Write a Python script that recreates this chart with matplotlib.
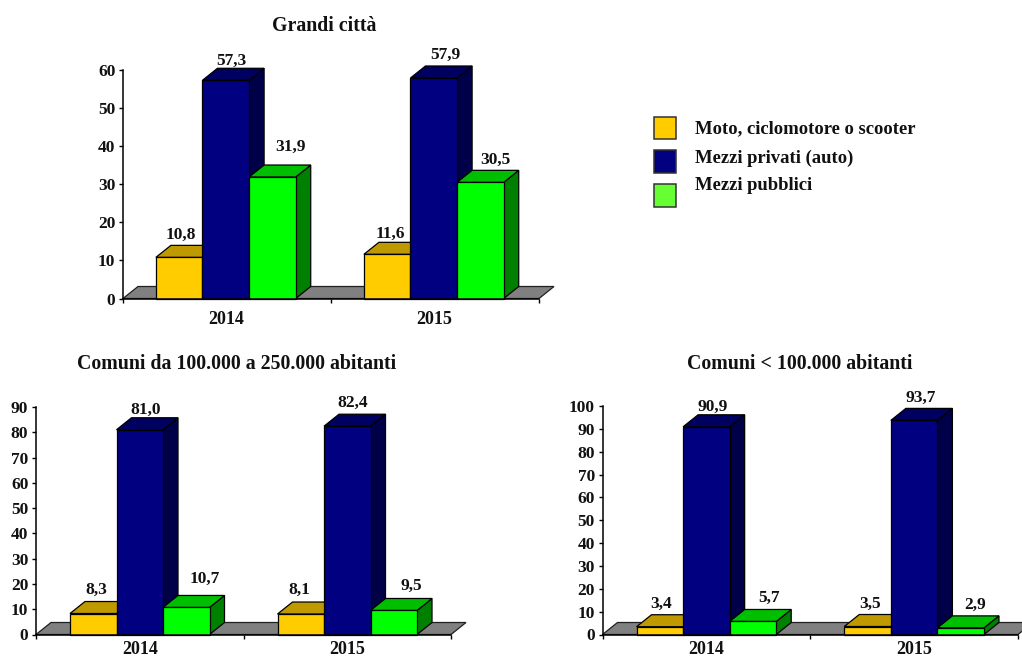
import matplotlib
matplotlib.use("Agg")
import matplotlib.pyplot as plt
from matplotlib.patches import Polygon, Rectangle

plt.rcParams['font.family'] = ['Liberation Serif', 'DejaVu Serif']
plt.rcParams['font.weight'] = 'bold'

years = ['2014', '2015']
series_names = ['Moto, ciclomotore o scooter', 'Mezzi privati (auto)', 'Mezzi pubblici']
titles = ['Grandi città', 'Comuni da 100.000 a 250.000 abitanti', 'Comuni < 100.000 abitanti']

grandi_moto = [10.8, 11.6]
grandi_auto = [57.3, 57.9]
grandi_pubblici = [31.9, 30.5]
medi_moto = [8.3, 8.1]
medi_auto = [81.0, 82.4]
medi_pubblici = [10.7, 9.5]
piccoli_moto = [3.4, 3.5]
piccoli_auto = [90.9, 93.7]
piccoli_pubblici = [5.7, 2.9]

y_maxima = [60, 90, 100]
y_steps = [10, 10, 10]

W, H = 1022, 659
front = ['#FFCC00', '#000080', '#00FF00']
top = ['#BF9900', '#000060', '#00BF00']
side = ['#806600', '#000048', '#008000']
legend_colors = ['#FFCC00', '#000080', '#66FF33']
DX, DY = 15, 12          # pixel depth of the 3D effect
BAR = 46.5 / 207.5       # bar width in category units

# Layout: axes box in pixels (left, right, y of zero, y of maximum)
boxes = [(123, 539, 298.5, 70), (36, 451, 634.5, 407), (602.5, 1018, 634.5, 406)]
group_shift_px = [-1.2, 0, 0]
# label offsets from the front-top centre of each bar, in pixels
offsets = [
    [[(2, 22), (6, 19), (18, 30)], [(3, 20), (12, 23), (15, 22)]],
    [[(3, 24), (6, 20), (18, 29)], [(-1, 24), (5, 23), (18, 25)]],
    [[(1, 23), (6, 20), (16, 24)], [(2, 23), (7, 23), (14, 23)]],
]
title_px = [(324, 26), (237, 364), (800, 364)]
tick_label_base = [323.5, 654.5, 654.5]

fig = plt.figure(figsize=(W / 100, H / 100), dpi=100, facecolor='white')
datasets = [
    [grandi_moto, grandi_auto, grandi_pubblici],
    [medi_moto, medi_auto, medi_pubblici],
    [piccoli_moto, piccoli_auto, piccoli_pubblici],
]

for k, (box, data, ymax, step) in enumerate(zip(boxes, datasets, y_maxima, y_steps)):
    l, r, y0, yt = box
    ax = fig.add_axes([l / W, 1 - y0 / H, (r - l) / W, (y0 - yt) / H])
    ax.set_xlim(0, 2)
    ax.set_ylim(0, ymax)
    ax.patch.set_alpha(0)
    ax.set_axisbelow(False)
    sx = (r - l) / 2          # pixels per category
    sy = (y0 - yt) / ymax     # pixels per unit
    dx, dy = DX / sx, DY / sy
    shift = group_shift_px[k] / sx

    ax.add_patch(Polygon([(0, 0), (dx, dy), (2 + dx, dy), (2, 0)], closed=True, clip_on=False,
                         facecolor='#808080', edgecolor='#202020', lw=0.9, zorder=1))

    z = 2
    for g in range(2):
        for s in range(3):
            v = data[s][g]
            xc = g + 0.5 + shift + (s - 1) * BAR
            x0, x1 = xc - BAR / 2, xc + BAR / 2
            ax.add_patch(Polygon([(x1, 0), (x1 + dx, dy), (x1 + dx, v + dy), (x1, v)], closed=True,
                                 facecolor=side[s], edgecolor='black', lw=0.9, zorder=z, clip_on=False))
            ax.add_patch(Polygon([(x0, v), (x0 + dx, v + dy), (x1 + dx, v + dy), (x1, v)], closed=True,
                                 facecolor=top[s], edgecolor='black', lw=0.9, zorder=z, clip_on=False))
            ax.bar(xc, v, BAR, color=front[s], edgecolor='black', lw=0.9, zorder=z + 0.5, clip_on=False)
            z += 1
            ox, oy = offsets[k][g][s]
            ax.annotate(f'{v:.1f}'.replace('.', ','), (xc, v), xytext=(ox * 0.72, oy * 0.72),
                        textcoords='offset points', ha='center', va='center',
                        fontsize=12.5, color='#111111', zorder=30, annotation_clip=False)

    for name in ('top', 'right'):
        ax.spines[name].set_visible(False)
    for name in ('left', 'bottom'):
        ax.spines[name].set_linewidth(1.1)
        ax.spines[name].set_zorder(40)
    ax.set_yticks(range(0, ymax + 1, step))
    ax.tick_params(axis='y', length=3, width=1, pad=2.5, labelsize=12.5, labelcolor='#111111')
    ax.set_xticks([0, 1, 2])
    ax.set_xticklabels([])
    ax.tick_params(axis='x', length=3, width=1)
    for g, yr in enumerate(years):
        fig.text((l + (g + 0.5) * sx + group_shift_px[k]) / W, 1 - tick_label_base[k] / H, yr,
                 ha='center', va='baseline', fontsize=13, color='#111111')
    fig.text(title_px[k][0] / W, 1 - title_px[k][1] / H, titles[k], ha='center', va='center',
             fontsize=14.3, color='#111111')

legend_y = [(117, 139), (150, 172.5), (184, 207)]
legend_text_y = [129, 158, 186]
for name, c, (a, b), ty in zip(series_names, legend_colors, legend_y, legend_text_y):
    fig.add_artist(Rectangle((654 / W, 1 - b / H), 22 / W, (b - a) / H, transform=fig.transFigure,
                             facecolor=c, edgecolor='#333333', lw=1.1))
    fig.text(695 / W, 1 - ty / H, name, ha='left', va='center', fontsize=13.4, color='#111111')

fig.savefig('out.png', dpi=100)
